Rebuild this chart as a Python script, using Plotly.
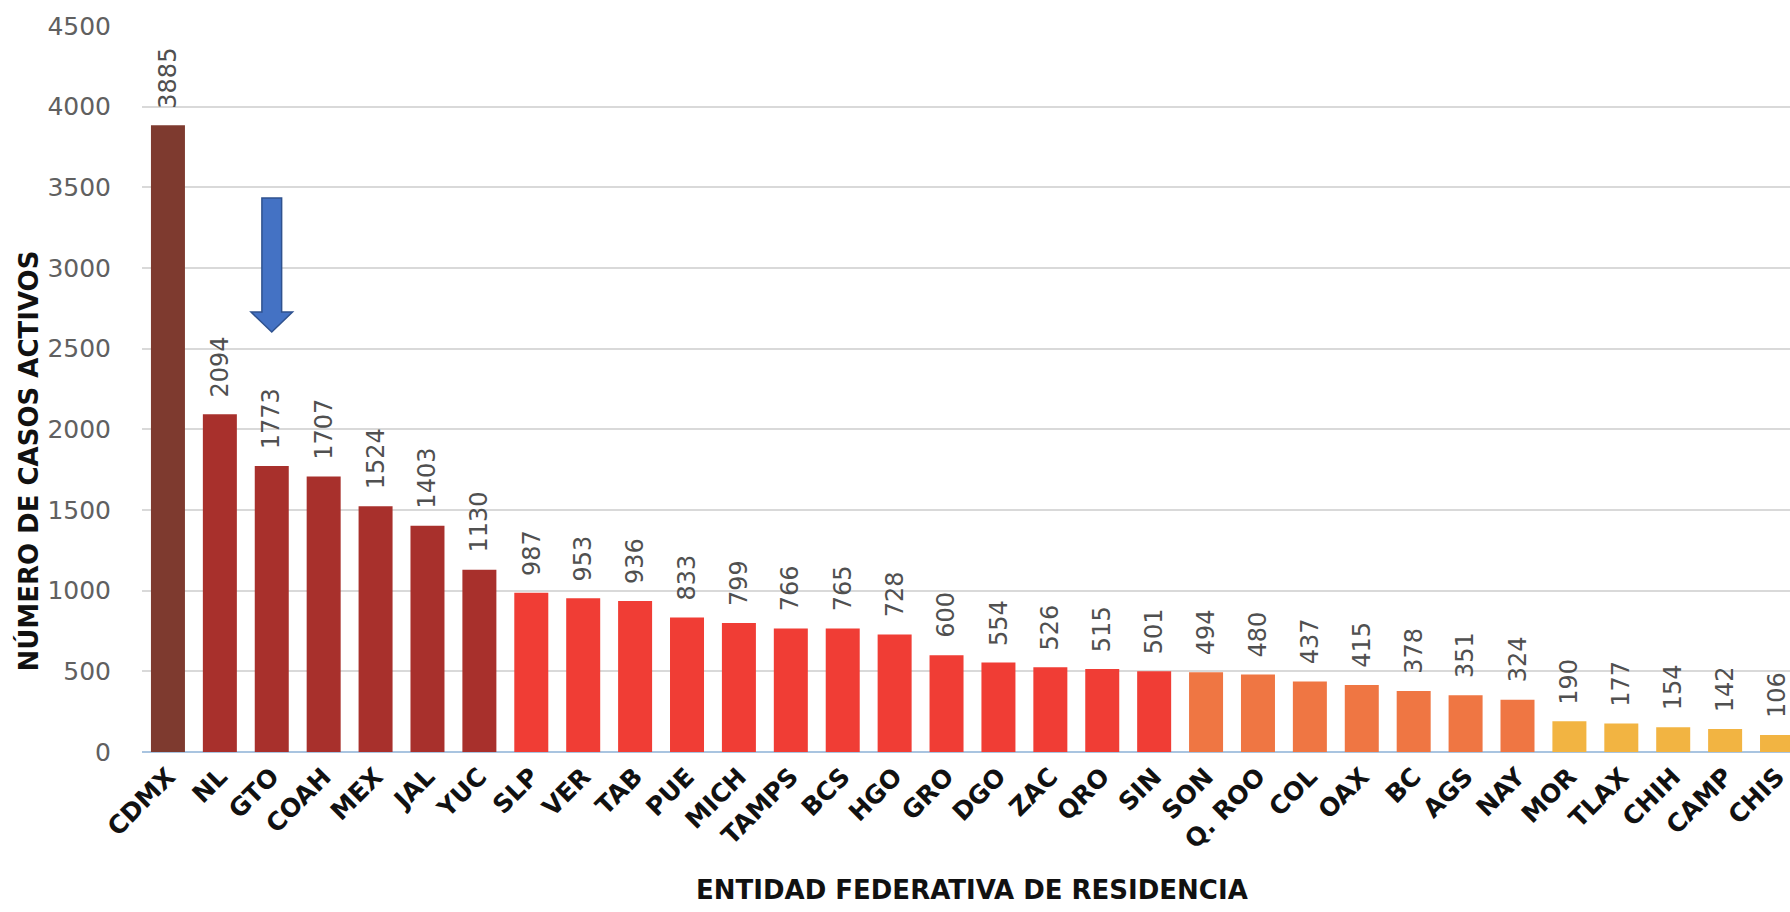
import plotly.graph_objects as go

# ---- data ----
estados = ["CDMX", "NL", "GTO", "COAH", "MEX", "JAL", "YUC", "SLP", "VER", "TAB",
           "PUE", "MICH", "TAMPS", "BCS", "HGO", "GRO", "DGO", "ZAC", "QRO", "SIN",
           "SON", "Q. ROO", "COL", "OAX", "BC", "AGS", "NAY", "MOR", "TLAX", "CHIH",
           "CAMP", "CHIS"]
casos = [3885, 2094, 1773, 1707, 1524, 1403, 1130, 987, 953, 936,
         833, 799, 766, 765, 728, 600, 554, 526, 515, 501,
         494, 480, 437, 415, 378, 351, 324, 190, 177, 154,
         142, 106]
grupo = [0, 1, 1, 1, 1, 1, 1, 2, 2, 2,
         2, 2, 2, 2, 2, 2, 2, 2, 2, 2,
         3, 3, 3, 3, 3, 3, 3, 4, 4, 4,
         4, 4]
y_ticks = [0, 500, 1000, 1500, 2000, 2500, 3000, 3500, 4000, 4500]
estado_resaltado = "GTO"

# ---- styles ----
paleta = ["#7E3A2F", "#A8302C", "#F03D35", "#EF7643", "#F2B442"]
colores = [paleta[g] for g in grupo]

fig = go.Figure()
fig.add_trace(go.Bar(
    x=estados, y=casos, marker=dict(color=colores, line=dict(width=0)),
    hoverinfo="x+y",
))

# value labels (rotated) above bars
for e, v in zip(estados, casos):
    fig.add_annotation(
        x=e, y=v, xref="x", yref="y", text=str(v), showarrow=False,
        textangle=-90, yanchor="bottom", xanchor="center", yshift=15,
        font=dict(family="DejaVu Sans", size=24, color="#505050"),
    )

# blue arrow above highlighted bar
i = estados.index(estado_resaltado)
sw, hw = 0.19, 0.40
y_top, y_head, y_tip = 3434, 2727, 2603
path = (f"M {i-sw},{y_top} L {i+sw},{y_top} L {i+sw},{y_head} L {i+hw},{y_head} "
        f"L {i},{y_tip} L {i-hw},{y_head} L {i-sw},{y_head} Z")
fig.add_shape(type="path", path=path, xref="x", yref="y",
              fillcolor="#4472C4", line=dict(color="#2F528F", width=1.5))

# axis titles
fig.add_annotation(
    text="<b>NÚMERO DE CASOS ACTIVOS</b>", xref="paper", yref="paper",
    x=0, y=0.40, xshift=-113, showarrow=False, textangle=-90,
    xanchor="center", yanchor="middle",
    font=dict(family="DejaVu Sans", size=26, color="#111111"),
)
fig.add_annotation(
    text="<b>ENTIDAD FEDERATIVA DE RESIDENCIA</b>", xref="paper", yref="paper",
    x=0.5036, y=0, yshift=-138, showarrow=False,
    xanchor="center", yanchor="middle",
    font=dict(family="DejaVu Sans", size=26, color="#111111"),
)

fig.update_layout(
    width=1790, height=912,
    margin=dict(l=142, r=0, t=26, b=160),
    paper_bgcolor="white", plot_bgcolor="white",
    bargap=0.345, showlegend=False,
    xaxis=dict(
        range=[-0.5, 31.25], tickangle=-45, showgrid=False,
        tickfont=dict(family="DejaVu Sans", size=25, color="#111111", weight="bold"),
        showline=False, zeroline=False, ticks="", fixedrange=True,
        ticklabelstandoff=4,
    ),
    yaxis=dict(
        range=[0, 4500], tickvals=y_ticks, showgrid=True,
        gridcolor="#D9D9D9", gridwidth=2, zeroline=True,
        zerolinecolor="#A9C4E0", zerolinewidth=2,
        tickfont=dict(family="DejaVu Sans", size=25, color="#606060"),
        ticklabelstandoff=30, showline=False, fixedrange=True,
    ),
)

fig.write_html("out.html", config={"displayModeBar": False},
               post_script="document.body.style.margin='0px';")
